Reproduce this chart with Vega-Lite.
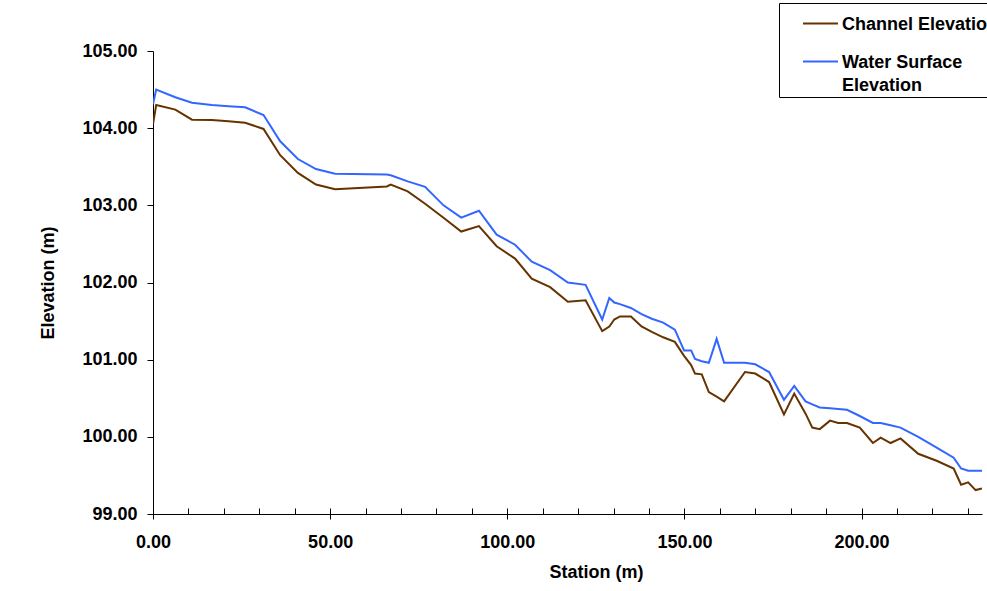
{
  "$schema": "https://vega.github.io/schema/vega-lite/v6.json",
  "width": 829,
  "height": 463,
  "autosize": {"type": "none"},
  "padding": {"left": 153, "top": 51, "right": 5, "bottom": 77},
  "background": "white",
  "config": {
    "view": {"stroke": null},
    "font": "Liberation Sans",
    "axis": {
      "labelFont": "Liberation Sans",
      "titleFont": "Liberation Sans",
      "labelFontWeight": "bold",
      "titleFontWeight": "bold",
      "labelColor": "black",
      "titleColor": "black",
      "domainColor": "black",
      "tickColor": "black",
      "domainWidth": 1,
      "tickWidth": 1,
      "grid": false
    }
  },
  "data": {
    "values": [
      {"station": 0, "channel": 104.05, "water": 104.31},
      {"station": 0.9, "channel": 104.3, "water": 104.5},
      {"station": 6.3, "channel": 104.24, "water": 104.4},
      {"station": 11.0, "channel": 104.11, "water": 104.33},
      {"station": 16.6, "channel": 104.105, "water": 104.3},
      {"station": 21.3, "channel": 104.09, "water": 104.285},
      {"station": 26.0, "channel": 104.07, "water": 104.27},
      {"station": 31.2, "channel": 103.99, "water": 104.17},
      {"station": 35.9, "channel": 103.65, "water": 103.83},
      {"station": 40.9, "channel": 103.42, "water": 103.6},
      {"station": 46.0, "channel": 103.27, "water": 103.47},
      {"station": 51.4, "channel": 103.21, "water": 103.41},
      {"station": 66.0, "channel": 103.245, "water": 103.4},
      {"station": 67.1, "channel": 103.27, "water": 103.39},
      {"station": 71.9, "channel": 103.18, "water": 103.31},
      {"station": 76.8, "channel": 103.02, "water": 103.24},
      {"station": 82.0, "channel": 102.84, "water": 103.0},
      {"station": 87.0, "channel": 102.66, "water": 102.84},
      {"station": 92.0, "channel": 102.73, "water": 102.93},
      {"station": 97.0, "channel": 102.47, "water": 102.62},
      {"station": 102.2, "channel": 102.31, "water": 102.49},
      {"station": 106.9, "channel": 102.05, "water": 102.27},
      {"station": 112.1, "channel": 101.94, "water": 102.16},
      {"station": 117.1, "channel": 101.75, "water": 102.0},
      {"station": 122.1, "channel": 101.77, "water": 101.97},
      {"station": 126.8, "channel": 101.37, "water": 101.52},
      {"station": 128.8, "channel": 101.43, "water": 101.8},
      {"station": 130.2, "channel": 101.52, "water": 101.74},
      {"station": 131.8, "channel": 101.56, "water": 101.72},
      {"station": 134.9, "channel": 101.56, "water": 101.67},
      {"station": 137.9, "channel": 101.43, "water": 101.59},
      {"station": 140.8, "channel": 101.36, "water": 101.53},
      {"station": 144.0, "channel": 101.29, "water": 101.48},
      {"station": 147.3, "channel": 101.23, "water": 101.39},
      {"station": 149.9, "channel": 101.05, "water": 101.12},
      {"station": 151.9, "channel": 100.93, "water": 101.12},
      {"station": 153.0, "channel": 100.82, "water": 101.01},
      {"station": 154.9, "channel": 100.81, "water": 100.98},
      {"station": 156.9, "channel": 100.58, "water": 100.96},
      {"station": 159.1, "channel": 100.52, "water": 101.27},
      {"station": 161.2, "channel": 100.46, "water": 100.96},
      {"station": 167.1, "channel": 100.84, "water": 100.96},
      {"station": 170.0, "channel": 100.82, "water": 100.94},
      {"station": 173.9, "channel": 100.71, "water": 100.84},
      {"station": 178.1, "channel": 100.29, "water": 100.48},
      {"station": 181.0, "channel": 100.56, "water": 100.66},
      {"station": 184.2, "channel": 100.3, "water": 100.46},
      {"station": 186.1, "channel": 100.12, "water": 100.42},
      {"station": 188.2, "channel": 100.1, "water": 100.38},
      {"station": 191.1, "channel": 100.21, "water": 100.37},
      {"station": 193.4, "channel": 100.18, "water": 100.36},
      {"station": 195.9, "channel": 100.18, "water": 100.35},
      {"station": 199.5, "channel": 100.12, "water": 100.27},
      {"station": 203.2, "channel": 99.92, "water": 100.18},
      {"station": 205.4, "channel": 99.99, "water": 100.18},
      {"station": 208.2, "channel": 99.92, "water": 100.15},
      {"station": 211.0, "channel": 99.98, "water": 100.12},
      {"station": 216.0, "channel": 99.78, "water": 100.0},
      {"station": 221.2, "channel": 99.69, "water": 99.86},
      {"station": 226.0, "channel": 99.59, "water": 99.73},
      {"station": 228.1, "channel": 99.38, "water": 99.59},
      {"station": 230.1, "channel": 99.41, "water": 99.56},
      {"station": 232.2, "channel": 99.31, "water": 99.56},
      {"station": 234.0, "channel": 99.33, "water": 99.56}
    ]
  },
  "transform": [{"fold": ["channel", "water"], "as": ["series", "elevation"]}],
  "layer": [
    {
      "mark": {"type": "line", "strokeWidth": 2, "clip": true},
      "encoding": {
        "x": {
          "field": "station",
          "type": "quantitative",
          "scale": {"domain": [0, 234], "nice": false, "zero": false},
          "axis": {
            "orient": "bottom",
            "values": [0, 50, 100, 150, 200],
            "format": ".2f",
            "tickSize": 5,
            "labelPadding": 14,
            "labelFlush": false,
            "labelFontSize": 18,
            "title": "Station (m)",
            "titleFontSize": 18,
            "titlePadding": 12,
            "titleX": 443
          }
        },
        "y": {
          "field": "elevation",
          "type": "quantitative",
          "scale": {"domain": [99, 105], "nice": false, "zero": false},
          "axis": {
            "values": [99, 100, 101, 102, 103, 104, 105],
            "format": ".2f",
            "tickSize": 6,
            "labelPadding": 10,
            "labelFlush": false,
            "labelFontSize": 18,
            "title": "Elevation (m)",
            "titleFontSize": 18,
            "titlePadding": 24
          }
        },
        "color": {
          "field": "series",
          "type": "nominal",
          "scale": {"domain": ["channel", "water"], "range": ["#663300", "#3366FF"]},
          "legend": {
            "title": null,
            "orient": "none",
            "legendX": 626,
            "legendY": -48,
            "direction": "vertical",
            "strokeColor": "black",
            "fillColor": "white",
            "padding": 2,
            "symbolType": "stroke",
            "symbolSize": 1225,
            "symbolStrokeWidth": 2,
            "symbolOffset": 21,
            "labelFont": "Liberation Sans",
            "labelFontSize": 18,
            "labelFontWeight": "bold",
            "labelColor": "black",
            "labelOffset": 3,
            "labelLimit": 400,
            "rowPadding": 9,
            "labelBaseline": "alphabetic",
            "labelExpr": "datum.value == 'channel' ? 'Channel Elevation' : ['Water Surface', 'Elevation']",
            "encode": {"labels": {"update": {"dy": {"value": 6}, "lineHeight": {"value": 23}}}}
          }
        }
      }
    },
    {
      "mark": {"type": "line", "strokeOpacity": 0, "clip": true},
      "encoding": {
        "x": {
          "field": "station",
          "type": "quantitative",
          "scale": {"domain": [0, 234], "nice": false, "zero": false},
          "axis": {
            "orient": "bottom",
            "values": [0, 10, 20, 30, 40, 50, 60, 70, 80, 90, 100, 110, 120, 130, 140, 150, 160, 170, 180, 190, 200, 210, 220, 230],
            "tickSize": -6,
            "labels": false,
            "domain": false,
            "title": null
          }
        },
        "y": {
          "field": "elevation",
          "type": "quantitative",
          "scale": {"domain": [99, 105], "nice": false, "zero": false}
        },
        "detail": {"field": "series", "type": "nominal"}
      }
    }
  ],
  "resolve": {"axis": {"x": "independent"}}
}
